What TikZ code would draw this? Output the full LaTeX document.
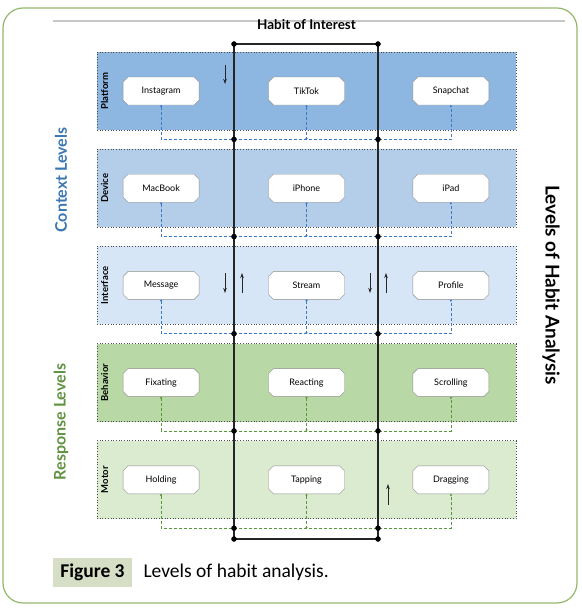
\documentclass[tikz,border=0pt]{standalone}
\usepackage{fontspec}
\setmainfont{Lato}
\newfontfamily\capfont{Carlito}
\usepackage{tikz}
\usetikzlibrary{positioning,shapes.misc,arrows.meta}

\definecolor{framegreen}{RGB}{146,184,106}
\definecolor{platformblue}{RGB}{141,182,224}
\definecolor{deviceblue}{RGB}{180,206,233}
\definecolor{interfaceblue}{RGB}{214,230,246}
\definecolor{behaviorgreen}{RGB}{184,217,165}
\definecolor{motorgreen}{RGB}{218,235,208}
\definecolor{contextblue}{RGB}{58,118,178}
\definecolor{responsegreen}{RGB}{96,146,64}
\definecolor{linkblue}{RGB}{60,120,200}
\definecolor{linkgreen}{RGB}{90,150,60}
\definecolor{captionbg}{RGB}{214,223,197}

\tikzset{
 band/.style={draw=black!70, dotted, line width=0.7pt, minimum width=419pt, minimum height=78pt, inner sep=0pt},
 item/.style={chamfered rectangle, chamfered rectangle xsep=2.5pt, chamfered rectangle ysep=2.5pt,
  draw=black!45, fill=white, minimum width=76pt, minimum height=28pt, inner sep=0pt, font=\fontsize{9}{10}\selectfont},
 bandlabel/.style={rotate=90, font=\bfseries\fontsize{9.5}{11}\selectfont},
 bluelink/.style={draw=linkblue, densely dashed, line width=0.7pt, {Circle[length=2pt]}-{Circle[length=2pt]}},
 greenlink/.style={draw=linkgreen, densely dashed, line width=0.7pt, {Circle[length=2pt]}-{Circle[length=2pt]}},
 rail/.style={black!85, line width=1.4pt},
 flow/.style={black!85, line width=1pt, -{Stealth[length=5pt,width=3.5pt]}},
 sidetitle/.style={font=\bfseries\fontsize{16}{18}\selectfont}
}

\begin{document}
\begin{tikzpicture}[x=1pt,y=-1pt]
\useasboundingbox (0,0) rectangle (581,610);

%Frame
\draw[framegreen, line width=1.2pt, rounded corners=20pt] (3,8) rectangle (577,603);
\draw[black!22, line width=2pt] (53,21) -- (565,21);

%Titles
\node[font=\bfseries\fontsize{13.5}{15}\selectfont] (title) at (306.5,25) {Habit of Interest};
\node[sidetitle, rotate=90, text=contextblue] (context) at (61,180) {Context Levels};
\node[sidetitle, rotate=90, text=responsegreen] (response) at (61,422) {Response Levels};
\node[sidetitle, rotate=-90, font=\bfseries\fontsize{19}{21}\selectfont] (analysis) at (551,285) {Levels of Habit Analysis};

%Bands
\node[band, fill=platformblue] (platform) at (306.5,91) {};
\node[band, fill=deviceblue, below=18.5pt of platform] (device) {};
\node[band, fill=interfaceblue, below=18.5pt of device] (interface) {};
\node[band, fill=behaviorgreen, below=18.5pt of interface] (behavior) {};
\node[band, fill=motorgreen, below=18.5pt of behavior] (motor) {};

\node[bandlabel] (platformlabel) at ([xshift=8pt]platform.west) {Platform};
\node[bandlabel] (devicelabel) at ([xshift=8pt]device.west) {Device};
\node[bandlabel] (interfacelabel) at ([xshift=8pt]interface.west) {Interface};
\node[bandlabel] (behaviorlabel) at ([xshift=8pt]behavior.west) {Behavior};
\node[bandlabel] (motorlabel) at ([xshift=8pt]motor.west) {Motor};

%Items
\node[item] (tiktok) at (platform.center) {TikTok};
\node[item, left=69pt of tiktok] (instagram) {Instagram};
\node[item, right=68pt of tiktok] (snapchat) {Snapchat};

\node[item] (iphone) at (device.center) {iPhone};
\node[item, left=69pt of iphone] (macbook) {MacBook};
\node[item, right=68pt of iphone] (ipad) {iPad};

\node[item] (stream) at (interface.center) {Stream};
\node[item, left=69pt of stream] (message) {Message};
\node[item, right=68pt of stream] (profile) {Profile};

\node[item] (reacting) at (behavior.center) {Reacting};
\node[item, left=69pt of reacting] (fixating) {Fixating};
\node[item, right=68pt of reacting] (scrolling) {Scrolling};

\node[item] (tapping) at (motor.center) {Tapping};
\node[item, left=69pt of tapping] (holding) {Holding};
\node[item, right=68pt of tapping] (dragging) {Dragging};

%Joins under the bands
\coordinate (platjoin) at ([yshift=-9pt]platform.south);
\coordinate (devjoin) at ([yshift=-9pt]device.south);
\coordinate (intjoin) at ([yshift=-9pt]interface.south);
\coordinate (behjoin) at ([yshift=-9pt]behavior.south);
\coordinate (motjoin) at ([yshift=-9pt]motor.south);

\draw[bluelink] (instagram.south) -- (instagram.south |- platjoin) -- (snapchat.south |- platjoin) -- (snapchat.south);
\draw[bluelink] (tiktok.south) -- (tiktok.south |- platjoin);
\draw[bluelink] (macbook.south) -- (macbook.south |- devjoin) -- (ipad.south |- devjoin) -- (ipad.south);
\draw[bluelink] (iphone.south) -- (iphone.south |- devjoin);
\draw[bluelink] (message.south) -- (message.south |- intjoin) -- (profile.south |- intjoin) -- (profile.south);
\draw[bluelink] (stream.south) -- (stream.south |- intjoin);
\draw[greenlink] (fixating.south) -- (fixating.south |- behjoin) -- (scrolling.south |- behjoin) -- (scrolling.south);
\draw[greenlink] (reacting.south) -- (reacting.south |- behjoin);
\draw[greenlink] (holding.south) -- (holding.south |- motjoin) -- (dragging.south |- motjoin) -- (dragging.south);
\draw[greenlink] (tapping.south) -- (tapping.south |- motjoin);

%Rails
\coordinate (railL) at (234,44);
\coordinate (railR) at (378,44);
\coordinate (railLb) at (234,539);
\coordinate (railRb) at (378,539);
\draw[rail] (railLb) -- (railL) -- (railR) -- (railRb) -- cycle;

%Dots
\filldraw[black](railL) circle(2.5pt);
\filldraw[black](railR) circle(2.5pt);
\filldraw[black](railLb) circle(2.5pt);
\filldraw[black](railRb) circle(2.5pt);
\filldraw[black](railL |- platjoin) circle(2.5pt);
\filldraw[black](railR |- platjoin) circle(2.5pt);
\filldraw[black](railL |- devjoin) circle(2.5pt);
\filldraw[black](railR |- devjoin) circle(2.5pt);
\filldraw[black](railL |- intjoin) circle(2.5pt);
\filldraw[black](railR |- intjoin) circle(2.5pt);
\filldraw[black](railL |- behjoin) circle(2.5pt);
\filldraw[black](railR |- behjoin) circle(2.5pt);
\filldraw[black](railL |- motjoin) circle(2.5pt);
\filldraw[black](railR |- motjoin) circle(2.5pt);

%Direction arrows
\draw[flow] (225,65) -- (225,84);
\draw[flow] (225,273) -- (225,293);
\draw[flow] (242,293) -- (242,273);
\draw[flow] (370,273) -- (370,293);
\draw[flow] (386,293) -- (386,273);
\draw[flow] (388,505) -- (388,484);

%Caption
\node[fill=captionbg, font=\capfont\bfseries\fontsize{19.5}{22}\selectfont, minimum height=29pt, inner xsep=7pt] (figlabel) at (92.5,572) {Figure 3};
\node[font=\capfont\fontsize{19.5}{22}\selectfont, inner sep=0pt, right=11.5pt of figlabel] (figcaption) {Levels of habit analysis.};

\end{tikzpicture}
\end{document}
